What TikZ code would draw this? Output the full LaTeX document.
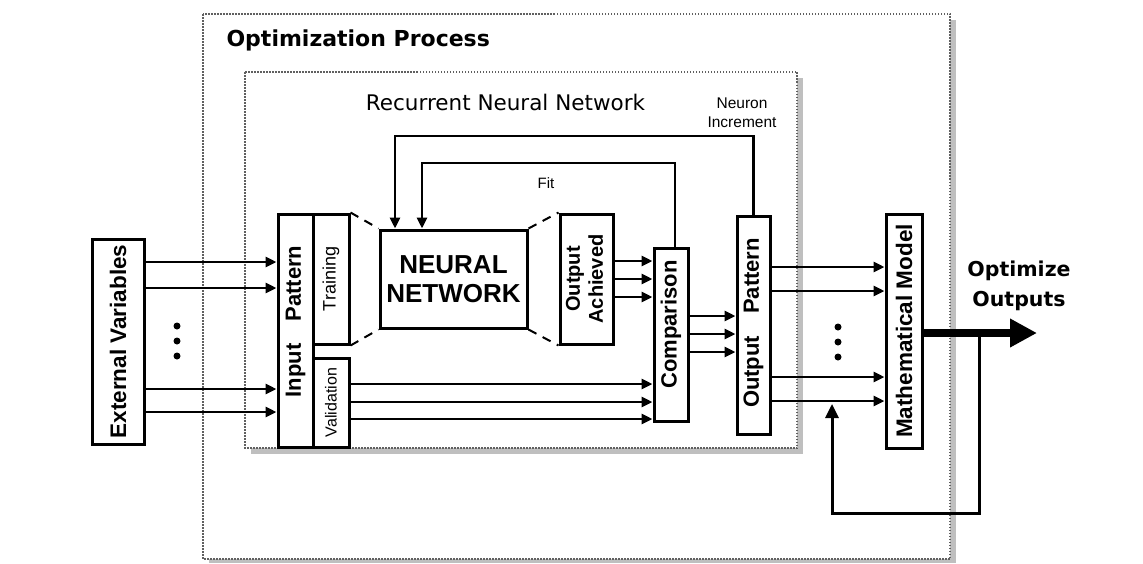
\documentclass[tikz,border=0pt]{standalone}
\usepackage{fontspec}
\setmainfont{Liberation Sans}
\newfontfamily\dvs{DejaVu Sans}
\usetikzlibrary{arrows.meta}
\begin{document}
\begin{tikzpicture}[x=1pt,y=-1pt,
  box/.style={draw, line width=3pt, inner sep=0pt, rectangle},
  arr/.style={line width=2.8pt, -{Triangle[length=11pt,width=10pt]}},
  dotbox/.style={draw=gray!75!black, line width=1.5pt, dash pattern=on 1.5pt off 1.5pt, fill=white},
  shadowfill/.style={fill=gray!50, draw=none},
  persp/.style={line width=2pt, dash pattern=on 9pt off 7pt},
  dotmark/.style={circle, fill=black, inner sep=0pt, minimum size=7pt},
]
\useasboundingbox (0,0) rectangle (1143,563);
% outer dotted frame with shadow
\fill[shadowfill] (950,20) rectangle (956,563);
\fill[shadowfill] (209,559) rectangle (956,563);
\draw[dotbox] (203,14) rectangle (950,559);
\node[anchor=base west, font={\dvs\bfseries\fontsize{22}{26}\selectfont}] (optproc) at (223,46.5) {Optimization Process};
% inner dotted frame with shadow
\fill[shadowfill] (797,78) rectangle (803,454);
\fill[shadowfill] (251,448) rectangle (803,454);
\draw[dotbox] (245,72) rectangle (797,448);
\node[anchor=base, font={\dvs\fontsize{21.5}{25}\selectfont}] (rnn) at (505.5,110) {Recurrent Neural Network};
\node[font=\fontsize{15.5}{19}\selectfont, align=center] (neuroninc) at (742,113) {Neuron\\Increment};
\node[font=\fontsize{15}{18}\selectfont] (fit) at (546,183) {Fit};

% boxes
\node[box, minimum width=52pt, minimum height=205pt] (ext) at (118,341.5)
  {\rotatebox{90}{\bfseries\fontsize{22.5}{27}\selectfont External Variables}};
\node[box, minimum width=35pt, minimum height=233pt] (inp) at (295.5,330.5)
  {\rotatebox{90}{\bfseries\fontsize{22}{26}\selectfont\hspace{18pt}Input\hspace{22pt}Pattern}};
\node[box, minimum width=36pt, minimum height=130pt] (train) at (331,279)
  {\rotatebox{90}{\fontsize{18}{22}\selectfont Training}};
\node[box, minimum width=36pt, minimum height=89pt] (valid) at (331,402.5)
  {\rotatebox{90}{\fontsize{16}{19}\selectfont Validation}};
\node[box, minimum width=147pt, minimum height=98pt, align=center,
      font={\bfseries\fontsize{26}{29}\selectfont}] (nn) at (453.5,279)
  {NEURAL\\NETWORK};
\node[box, minimum width=53pt, minimum height=130pt] (oa) at (586.5,279)
  {\rotatebox{90}{\bfseries\fontsize{20}{24}\selectfont\begin{tabular}{@{}c@{}}Output\\[-1pt]Achieved\end{tabular}}};
\node[box, minimum width=34pt, minimum height=173pt] (comp) at (671,334.5)
  {\rotatebox{90}{\bfseries\fontsize{22}{26}\selectfont\hspace{20pt}Comparison}};
\node[box, minimum width=33pt, minimum height=218pt] (op) at (753.5,325)
  {\rotatebox{90}{\bfseries\fontsize{22}{26}\selectfont\hspace{4pt}Output\hspace{22pt}Pattern}};
\node[box, minimum width=36pt, minimum height=234pt] (mm) at (904,331)
  {\rotatebox{90}{\bfseries\fontsize{22.5}{27}\selectfont Mathematical Model}};

% dots
\node[dotmark] (dl1) at (177,326) {};
\node[dotmark] (dl2) at (177,341) {};
\node[dotmark] (dl3) at (177,356) {};
\node[dotmark] (dr1) at (838,327) {};
\node[dotmark] (dr2) at (838,342) {};
\node[dotmark] (dr3) at (838,357) {};

% external variables -> input pattern
\foreach \yy [count=\i] in {262,288,389,412} {
  \coordinate (ey\i) at (0,\yy);
  \draw[arr] (ext.east |- ey\i) -- (inp.west |- ey\i);
}
% validation -> comparison
\foreach \yy [count=\i] in {384,402,419} {
  \coordinate (vy\i) at (0,\yy);
  \draw[arr] (valid.east |- vy\i) -- (comp.west |- vy\i);
}
% output achieved -> comparison
\foreach \yy [count=\i] in {261,279,297} {
  \coordinate (ay\i) at (0,\yy);
  \draw[arr] (oa.east |- ay\i) -- (comp.west |- ay\i);
}
% comparison -> output pattern
\foreach \yy [count=\i] in {316,334,352} {
  \coordinate (cy\i) at (0,\yy);
  \draw[arr] (comp.east |- cy\i) -- (op.west |- cy\i);
}
% output pattern -> mathematical model
\foreach \yy [count=\i] in {267,291,377,401} {
  \coordinate (py\i) at (0,\yy);
  \draw[arr] (op.east |- py\i) -- (mm.west |- py\i);
}

% perspective dashed lines
\draw[persp] (train.north east) -- (nn.north west);
\draw[persp] (train.south east) -- (nn.south west);
\draw[persp] (nn.north east) -- (oa.north west);
\draw[persp] (nn.south east) -- (oa.south west);

% feedback loops
\coordinate (l1) at (395,136);
\coordinate (l2) at (422,163);
\draw[arr] (op.north) |- (l1) -- (nn.north -| l1);
\draw[arr] ([xshift=4pt]comp.north) |- (l2) -- (nn.north -| l2);

% optimize outputs
\coordinate (otip) at (1037,333);
\draw[line width=8pt, -{Triangle[length=27pt,width=27pt]}] (mm.east |- otip) -- (otip);
\node[font={\dvs\bfseries\fontsize{20.5}{30}\selectfont}, align=center] (optout) at (1019,286) {Optimize\\Outputs};
\coordinate (fb1) at (979,333);
\coordinate (fb2) at (832,513);
\coordinate (fbend) at (832,404);
\draw[line width=3pt, -{Triangle[length=14pt,width=13pt]}] (fb1) |- (fb2) -- (fbend);
\end{tikzpicture}
\end{document}
